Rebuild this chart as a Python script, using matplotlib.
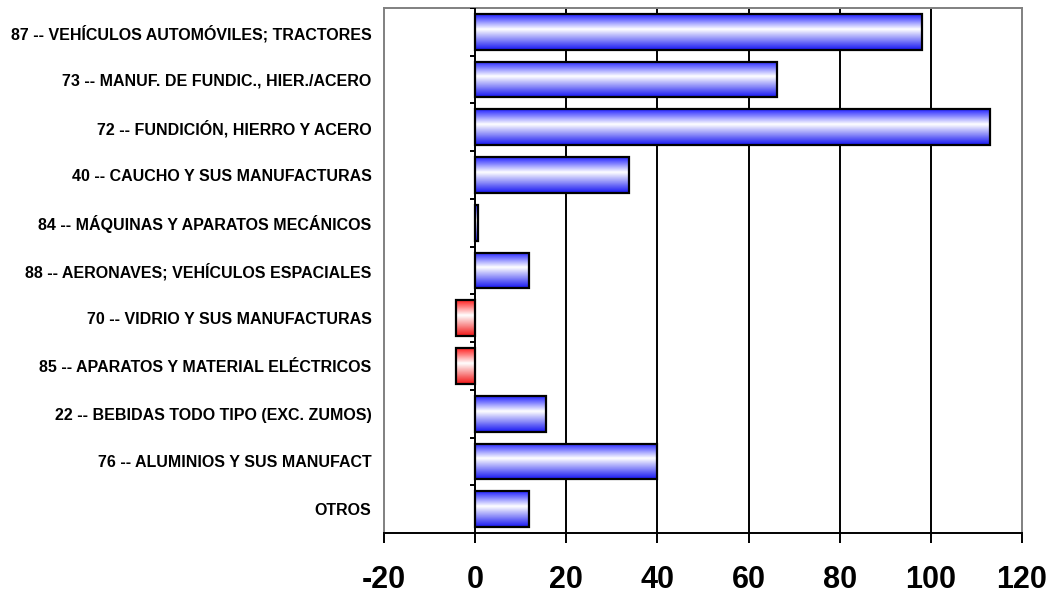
import matplotlib.pyplot as plt
import numpy as np
from matplotlib.colors import LinearSegmentedColormap

plt.rcParams["font.family"] = ["Liberation Sans", "DejaVu Sans"]

categories = [
    "87 -- VEHÍCULOS AUTOMÓVILES; TRACTORES",
    "73 -- MANUF. DE FUNDIC., HIER./ACERO",
    "72 -- FUNDICIÓN, HIERRO Y ACERO",
    "40 -- CAUCHO Y SUS MANUFACTURAS",
    "84 -- MÁQUINAS Y APARATOS MECÁNICOS",
    "88 -- AERONAVES; VEHÍCULOS ESPACIALES",
    "70 -- VIDRIO Y SUS MANUFACTURAS",
    "85 -- APARATOS Y MATERIAL ELÉCTRICOS",
    "22 -- BEBIDAS TODO TIPO (EXC. ZUMOS)",
    "76 -- ALUMINIOS Y SUS MANUFACT",
    "OTROS",
]
values = [98.0, 66.3, 113.0, 33.7, 0.6, 11.8, -4.3, -4.3, 15.6, 39.8, 11.8]
x_ticks = [-20, 0, 20, 40, 60, 80, 100, 120]

blue_cmap = LinearSegmentedColormap.from_list(
    "cyl_blue", [(0.0, (0.15, 0.15, 1.0)), (0.42, (1, 1, 1)), (1.0, (0.1, 0.1, 0.95))])
red_cmap = LinearSegmentedColormap.from_list(
    "cyl_red", [(0.0, (1.0, 0.15, 0.15)), (0.42, (1, 1, 1)), (1.0, (0.95, 0.1, 0.1))])
band = np.linspace(0, 1, 40).reshape(-1, 1)

fig = plt.figure(figsize=(10.53, 5.98), dpi=100)
ax = fig.add_axes([0.3647, 0.1087, 0.6059, 0.8779])

y = np.arange(len(categories))
bars = ax.barh(y, values, height=0.75, facecolor="none",
               edgecolor="black", linewidth=1.6, zorder=4)

# gradient fill inside each bar
for bar, v in zip(bars, values):
    x0, y0 = bar.get_x(), bar.get_y()
    w, h = bar.get_width(), bar.get_height()
    cmap = blue_cmap if v >= 0 else red_cmap
    ax.imshow(band, cmap=cmap, aspect="auto", interpolation="bilinear",
              extent=[x0, x0 + w, y0 + h, y0], zorder=3)

ax.set_xlim(-20, 120)
ax.set_ylim(len(categories) - 0.5, -0.5)

# vertical gridlines
for t in x_ticks[2:-1]:
    ax.axvline(t, color="black", linewidth=1.4, zorder=1)

# category axis at zero with boundary ticks
ax.axvline(0, color="black", linewidth=1.4, zorder=5)
bounds = np.arange(len(categories) + 1) - 0.5
ax.hlines(bounds[:-1], -1.2, 0, color="black", linewidth=1.4, zorder=5)

ax.set_xticks(x_ticks)
ax.set_xticklabels([str(t) for t in x_ticks], fontsize=22, fontweight="bold")
ax.tick_params(axis="x", direction="out", length=7, width=1.4, pad=16)
ax.set_yticks(y)
ax.set_yticklabels(categories, fontsize=11.5, fontweight="bold")
ax.tick_params(axis="y", length=0, pad=9)

for side in ["top", "left", "right"]:
    ax.spines[side].set_color("#808080")
    ax.spines[side].set_linewidth(1.4)
ax.spines["bottom"].set_color("black")
ax.spines["bottom"].set_linewidth(1.4)

fig.savefig("out.png", dpi=100)
